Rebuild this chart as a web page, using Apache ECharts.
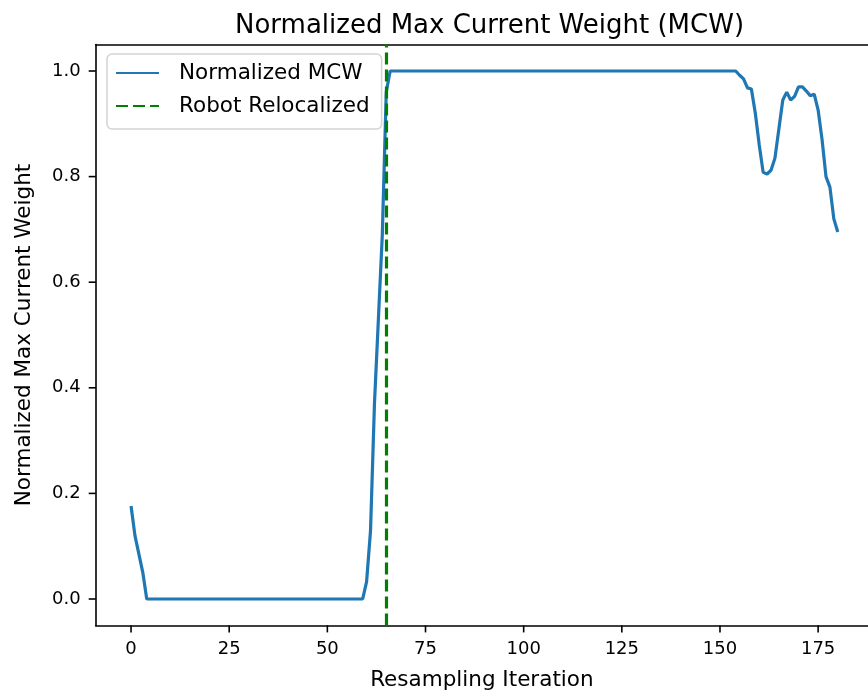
<!DOCTYPE html>
<html>
<head>
<meta charset="utf-8">
<script src="https://cdn.jsdelivr.net/npm/echarts@6/dist/echarts.min.js"></script>
<style>
html,body{margin:0;padding:0;background:#fff;}
#chart{width:868px;height:700px;}
</style>
</head>
<body>
<div id="chart"></div>
<script>
// Normalized MCW per resampling iteration (index = iteration 0..180)
const mcw = [
  0.176, 0.12, 0.085, 0.05, 0, 0, 0, 0, 0, 0,
  0, 0, 0, 0, 0, 0, 0, 0, 0, 0,
  0, 0, 0, 0, 0, 0, 0, 0, 0, 0,
  0, 0, 0, 0, 0, 0, 0, 0, 0, 0,
  0, 0, 0, 0, 0, 0, 0, 0, 0, 0,
  0, 0, 0, 0, 0, 0, 0, 0, 0, 0,
  0.033, 0.13, 0.37, 0.53, 0.69, 0.96, 1, 1, 1, 1,
  1, 1, 1, 1, 1, 1, 1, 1, 1, 1,
  1, 1, 1, 1, 1, 1, 1, 1, 1, 1,
  1, 1, 1, 1, 1, 1, 1, 1, 1, 1,
  1, 1, 1, 1, 1, 1, 1, 1, 1, 1,
  1, 1, 1, 1, 1, 1, 1, 1, 1, 1,
  1, 1, 1, 1, 1, 1, 1, 1, 1, 1,
  1, 1, 1, 1, 1, 1, 1, 1, 1, 1,
  1, 1, 1, 1, 1, 1, 1, 1, 1, 1,
  1, 1, 1, 1, 1, 0.992, 0.985, 0.968, 0.966, 0.92,
  0.86, 0.808, 0.805, 0.812, 0.835, 0.89, 0.945, 0.96, 0.945, 0.952,
  0.970, 0.970, 0.962, 0.953, 0.956, 0.926, 0.87, 0.80, 0.78, 0.72,
  0.695
];
const relocalizedAt = 65;
const xTicks = [0, 25, 50, 75, 100, 125, 150, 175];
const yTicks = [0, 0.2, 0.4, 0.6, 0.8, 1.0];
const xRange = [-9, 187.7];
const yRange = [-0.05, 1.05];

const FONT = 'DejaVu Sans';
const TICK_LEN = 7;
const chart = echarts.init(document.getElementById('chart'), null, {renderer: 'canvas'});
const seriesData = mcw.map((v, i) => [i, v]);
function frameLine() { return {show: true, onZero: false, lineStyle: {color: '#000', width: 1.6}}; }

chart.setOption({
  animation: false,
  backgroundColor: '#fff',
  title: {
    text: 'Normalized Max Current Weight (MCW)',
    left: 484.5, textAlign: 'center', top: 8,
    textStyle: {fontFamily: FONT, fontSize: 26, fontWeight: 'normal', color: '#000'}
  },
  grid: {
    left: 95.7, top: 44.6, right: 0, height: 580.8, show: false
  },
  legend: {
    orient: 'vertical', left: 107, top: 54,
    padding: [8, 12, 12, 8],
    itemWidth: 43, itemHeight: 22, itemGap: 11,
    itemStyle: {opacity: 0},
    backgroundColor: 'rgba(255,255,255,0.85)',
    borderColor: '#d3d3d3', borderWidth: 1.5, borderRadius: 5,
    textStyle: {fontFamily: FONT, fontSize: 21.5, color: '#000', padding: [0, 0, 0, 15]},
    data: ['Normalized MCW', 'Robot Relocalized']
  },
  xAxis: [{
    type: 'value', min: xRange[0], max: xRange[1],
    name: 'Resampling Iteration', nameLocation: 'middle', nameGap: 44,
    nameTextStyle: {fontFamily: FONT, fontSize: 21.5, color: '#000'},
    axisLine: frameLine(),
    splitLine: {show: false},
    axisTick: {show: false},
    axisLabel: {fontFamily: FONT, fontSize: 18, color: '#000', margin: 15, customValues: xTicks}
  }, {
    type: 'value', position: 'top', min: xRange[0], max: xRange[1],
    axisLine: frameLine(), axisTick: {show: false}, axisLabel: {show: false}, splitLine: {show: false}
  }],
  yAxis: {
    type: 'value', min: yRange[0], max: yRange[1],
    name: 'Normalized Max Current Weight', nameLocation: 'middle', nameGap: 60,
    nameTextStyle: {fontFamily: FONT, fontSize: 21.5, color: '#000'},
    axisLine: frameLine(),
    splitLine: {show: false},
    axisTick: {show: false},
    axisLabel: {fontFamily: FONT, fontSize: 18, color: '#000', margin: 15, customValues: yTicks,
      formatter: v => v.toFixed(1)}
  },
  series: [
    {
      name: 'Normalized MCW', type: 'line', data: seriesData,
      xAxisIndex: 0, yAxisIndex: 0,
      showSymbol: false, symbol: 'none', color: '#1f77b4',
      lineStyle: {color: '#1f77b4', width: 3.2}, z: 2
    },
    {
      name: 'Robot Relocalized', type: 'line', data: [],
      xAxisIndex: 0, yAxisIndex: 0,
      symbol: 'none', color: '#008000',
      lineStyle: {color: '#008000', width: 3.2, type: [12, 5]},
      markLine: {
        silent: true, symbol: 'none', label: {show: false},
        lineStyle: {color: '#008000', width: 3.2, type: [12, 5]},
        data: [{xAxis: relocalizedAt}]
      },
      z: 3
    }
  ]
});

// Tick marks outside the frame, positioned through the chart's own axis scales
const finder = {xAxisIndex: 0, yAxisIndex: 0};
const tickStyle = {stroke: '#000', lineWidth: 1.6};
const tickGraphics = [];
xTicks.forEach(v => {
  const p = chart.convertToPixel(finder, [v, yRange[0]]);
  tickGraphics.push({type: 'line', silent: true, z: 100,
    shape: {x1: p[0], y1: p[1], x2: p[0], y2: p[1] + TICK_LEN}, style: tickStyle});
});
yTicks.forEach(v => {
  const p = chart.convertToPixel(finder, [xRange[0], v]);
  tickGraphics.push({type: 'line', silent: true, z: 100,
    shape: {x1: p[0], y1: p[1], x2: p[0] - TICK_LEN, y2: p[1]}, style: tickStyle});
});
chart.setOption({graphic: tickGraphics});
</script>
</body>
</html>
